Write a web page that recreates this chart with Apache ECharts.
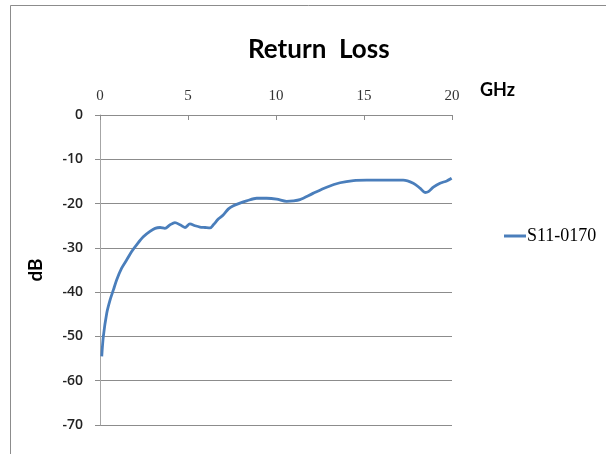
<!DOCTYPE html>
<html>
<head>
<meta charset="utf-8">
<script src="https://cdn.jsdelivr.net/npm/echarts@6/dist/echarts.min.js"></script>
<style>
    html, body { margin: 0; padding: 0; background: #fff; }
    #chart { width: 606px; height: 454px; }
</style>
</head>
<body>
<div id="chart"></div>
<script type="text/javascript">
    // frequency (GHz) and return loss (dB)
    var freqGHz = [0.1, 0.19, 0.38, 0.57, 0.76, 0.95, 1.23, 1.52, 1.8, 2.08, 2.46, 2.84, 3.13, 3.41, 3.69, 3.98, 4.26, 4.55, 4.83, 5.11, 5.4, 5.68, 5.97, 6.25, 6.44, 6.72, 7.0, 7.3, 7.58, 7.95, 8.33, 8.9, 9.47, 10.04, 10.6, 10.98, 11.36, 12.1, 12.88, 13.64, 14.4, 15.15, 15.9, 16.67, 17.23, 17.8, 18.18, 18.47, 18.66, 18.94, 19.32, 19.7, 19.98];
    var s11dB = [-54.5, -50, -44.8, -41.8, -39.5, -37.2, -34.6, -32.7, -30.8, -29.3, -27.5, -26.3, -25.6, -25.4, -25.6, -24.8, -24.3, -24.8, -25.4, -24.6, -25.0, -25.3, -25.4, -25.5, -24.8, -23.5, -22.6, -21.2, -20.5, -19.9, -19.4, -18.8, -18.8, -19.0, -19.5, -19.4, -19.1, -17.7, -16.3, -15.3, -14.8, -14.7, -14.7, -14.7, -14.7, -15.4, -16.5, -17.5, -17.3, -16.3, -15.4, -14.9, -14.3];
    var xTicks = [0, 5, 10, 15, 20];
    var yTicks = [0, -10, -20, -30, -40, -50, -60, -70];

    var chart = echarts.init(document.getElementById("chart"));
    var option = {
        backgroundColor: '#fff',
        animation: false,
        title: {
            text: 'Return  Loss',
            left: 243,
            top: 32,
            textStyle: {
                fontFamily: 'Lato',
                fontWeight: 'bold',
                fontSize: 26,
                color: '#000'
            }
        },
        legend: {
            data: ['S11-0170'],
            orient: 'vertical',
            left: 499,
            top: 222,
            icon: 'rect',
            itemWidth: 22,
            itemHeight: 3,
            itemGap: 4,
            textStyle: {
                fontFamily: 'Liberation Serif',
                fontSize: 18,
                color: '#000',
                padding: [0, 0, 0, -4]
            }
        },
        grid: {
            left: 100,
            right: 154,
            top: 115,
            bottom: 29
        },
        xAxis: {
            type: 'value',
            position: 'top',
            min: xTicks[0],
            max: xTicks[xTicks.length - 1],
            interval: 5,
            name: 'GHz',
            nameLocation: 'end',
            nameGap: 28,
            nameTextStyle: {
                fontFamily: 'Lato',
                fontWeight: 'bold',
                fontSize: 18,
                color: '#000',
                verticalAlign: 'bottom',
                padding: [0, 0, 16, 0]
            },
            axisLine: { onZero: false, lineStyle: { color: '#8c8c8c', width: 1 } },
            axisTick: { show: true, inside: true, length: 5, lineStyle: { color: '#8c8c8c' } },
            axisLabel: {
                margin: 11,
                fontFamily: 'Liberation Serif',
                fontSize: 15,
                color: '#333'
            },
            splitLine: { show: false }
        },
        yAxis: {
            type: 'value',
            min: yTicks[yTicks.length - 1],
            max: yTicks[0],
            interval: 10,
            name: 'dB',
            nameLocation: 'middle',
            nameGap: 55,
            nameRotate: 90,
            nameTextStyle: {
                fontFamily: 'Lato',
                fontWeight: 'bold',
                fontSize: 19,
                color: '#000'
            },
            axisLine: { show: true, onZero: false, lineStyle: { color: '#a6a6a6', width: 1 } },
            axisTick: { show: true, length: 5, lineStyle: { color: '#8c8c8c' } },
            axisLabel: {
                margin: 17,
                fontFamily: 'Open Sans',
                fontWeight: 600,
                fontSize: 14,
                color: '#222'
            },
            splitLine: { show: true, lineStyle: { color: '#8c8c8c', width: 1 } }
        },
        graphic: [{
            type: 'rect',
            shape: { x: 10.5, y: 5.5, width: 700, height: 500 },
            style: { fill: 'none', stroke: '#8c8c8c', lineWidth: 1 },
            silent: true
        }],
        series: [{
            name: 'S11-0170',
            type: 'line',
            smooth: 0.3,
            symbol: 'none',
            data: freqGHz.map(function (f, i) { return [f, s11dB[i]]; }),
            lineStyle: { color: '#4a7ebb', width: 2.8 },
            itemStyle: { color: '#4a7ebb' }
        }]
    };
    chart.setOption(option);
</script>
</body>
</html>
